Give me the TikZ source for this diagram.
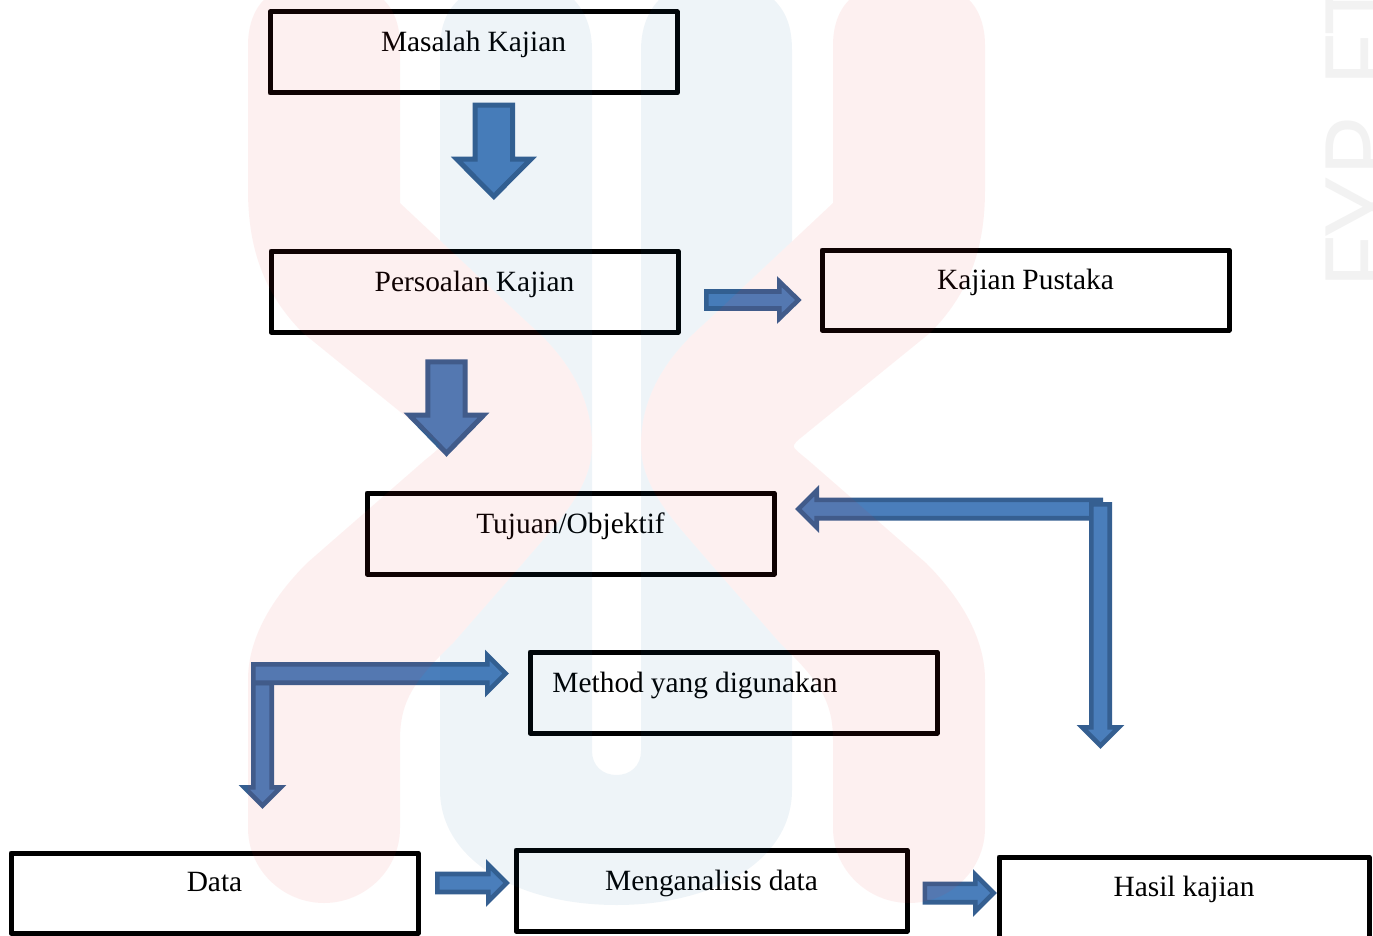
\documentclass[tikz,border=0pt]{standalone}
\usepackage{fontspec}
\setmainfont{Liberation Serif}
\newfontfamily\wmfont{Open Sans}
\usetikzlibrary{calc}
\definecolor{arrowfill}{HTML}{4A7EBB}
\definecolor{arrowedge}{HTML}{355F91}
\definecolor{wmred}{RGB}{238,40,40}
\definecolor{wmblue}{RGB}{14,96,157}
\newcommand{\tightsp}{\spaceskip=7pt\relax}
\tikzset{
  flowbox/.style n args={3}{draw=black,line width=5pt,line join=round,rectangle,inner sep=0pt,outer sep=0pt,
    anchor=north west,text width=#1 pt,align=center,text height=#2 pt,text depth=#3 pt,font=\fontsize{29.4}{32}\selectfont},
  blockarrow/.style={fill=arrowfill,draw=arrowedge,line width=4.6pt,miter limit=10},
  bigarrow/.style={line width=5pt}
}
% options, tail, tip, half shaft, head length, half head
\newcommand{\blockarrow}[6][]{%
  \coordinate (hb) at ($(#3)!#5pt!(#2)$);
  \draw[blockarrow,#1]
    ($(#2)!#4pt!90:(#3)$) -- ($(hb)!#4pt!90:(#3)$) -- ($(hb)!#6pt!90:(#3)$) -- (#3)
    -- ($(hb)!#6pt!-90:(#3)$) -- ($(hb)!#4pt!-90:(#3)$) -- ($(#2)!#4pt!-90:(#3)$) -- cycle;
}
\newcommand{\wmleg}{%
  (248,45) .. controls (248,20) and (258,0) .. (275,-8)
  -- (372,-8) .. controls (390,0) and (400,20) .. (400,45)
  -- (400,203) -- (530,325) .. controls (570,360) and (592,400) .. (592,445)
  .. controls (592,490) and (555,525) .. (523,563)
  -- (453,643) .. controls (415,680) and (400,700) .. (400,740)
  -- (400,828) .. controls (400,870) and (365,903) .. (324,903)
  .. controls (283,903) and (248,870) .. (248,828)
  -- (248,680) .. controls (248,640) and (270,600) .. (307,563)
  -- (425,460) .. controls (435,452) and (441,447) .. (439,445)
  .. controls (437,441) and (432,438) .. (425,432)
  -- (303,333) .. controls (265,295) and (248,250) .. (248,190) -- cycle
}
\begin{document}
\begin{tikzpicture}[x=1pt,y=-1pt]
\useasboundingbox (0,0) rectangle (1373,936);
\clip (0,0) rectangle (1373,936);
\fill[white] (0,0) rectangle (1373,936);

% boxes
\node[flowbox={407}{40}{41}] (masalah) at (270,12) {\tightsp Masalah Kajian};
\node[flowbox={407}{40}{41}] (persoalan) at (271,251) {\tightsp Persoalan Kajian};
\node[flowbox={407}{39}{41}] (pustaka) at (822,250) {\tightsp Kajian Pustaka};
\node[flowbox={407}{40}{41}] (tujuan) at (367,493) {\tightsp Tujuan/Objektif};
\node[flowbox={407}{40}{41}] (method) at (530,652) {\tightsp Method yang digunakan\kern77pt};
\node[flowbox={407}{38}{42}] (data) at (11,853) {\tightsp Data};
\node[flowbox={391}{40}{41}] (analisis) at (516,850) {\tightsp Menganalisis data};
\node[flowbox={370}{39}{44}] (hasil) at (999,857) {\tightsp Hasil kajian};

% block arrows
\coordinate (a1s) at (493.8,105.2); \coordinate (a1t) at (493.8,196.5);
\coordinate (a2s) at (706.3,300);   \coordinate (a2t) at (798.4,300);
\coordinate (a3s) at (446.5,361.8); \coordinate (a3t) at (446.5,453.2);
\coordinate (a4s) at (1100.7,509);  \coordinate (a4t) at (798.3,509);
\coordinate (a5s) at (1100.5,504.3);\coordinate (a5t) at (1100.5,745.7);
\coordinate (a6s) at (262.5,683);   \coordinate (a6t) at (262.5,805.7);
\coordinate (a7s) at (253.3,673.5); \coordinate (a7t) at (505.7,673.5);
\coordinate (a8s) at (437.3,883);   \coordinate (a8t) at (506.7,883);
\coordinate (a9s) at (924.8,893);   \coordinate (a9t) at (993.7,893);
\blockarrow[bigarrow]{a1s}{a1t}{18.7}{37.3}{37}
\blockarrow{a2s}{a2t}{8.5}{19}{18.4}
\blockarrow[bigarrow]{a3s}{a3t}{18.7}{38}{37}
\blockarrow{a4s}{a4t}{9.2}{18.4}{18.4}
\blockarrow{a5s}{a5t}{9.2}{18.4}{18.4}
\blockarrow{a6s}{a6t}{9.2}{18.4}{18.4}
\blockarrow{a7s}{a7t}{9.2}{18.4}{18.4}
\blockarrow{a8s}{a8t}{9}{18.4}{18.4}
\blockarrow{a9s}{a9t}{9.2}{18.4}{18.4}

% watermark
\begin{scope}[transparency group,opacity=.065]
\fill[wmblue]
  (440,50) .. controls (440,20) and (450,5) .. (468,-8)
  -- (565,-8) .. controls (583,5) and (592,25) .. (592,50)
  -- (592,751) .. controls (592,766) and (603,775) .. (616.5,775)
  .. controls (630,775) and (641,766) .. (641,751)
  -- (641,50) .. controls (641,25) and (650,5) .. (668,-8)
  -- (765,-8) .. controls (782,5) and (792,20) .. (792,50)
  -- (792,790) .. controls (792,860) and (715,905) .. (616.5,905)
  .. controls (518,905) and (440,860) .. (440,790) -- cycle;
\fill[wmred] \wmleg;
\begin{scope}[xshift=1233pt,xscale=-1]
\fill[wmred] \wmleg;
\end{scope}
\end{scope}
\node[rotate=90,anchor=base west,inner sep=0pt,text=black!5,font=\wmfont\fontsize{104.5}{105}\selectfont] (fyp) at (1400.6,291) {FYP FT};
\end{tikzpicture}
\end{document}
